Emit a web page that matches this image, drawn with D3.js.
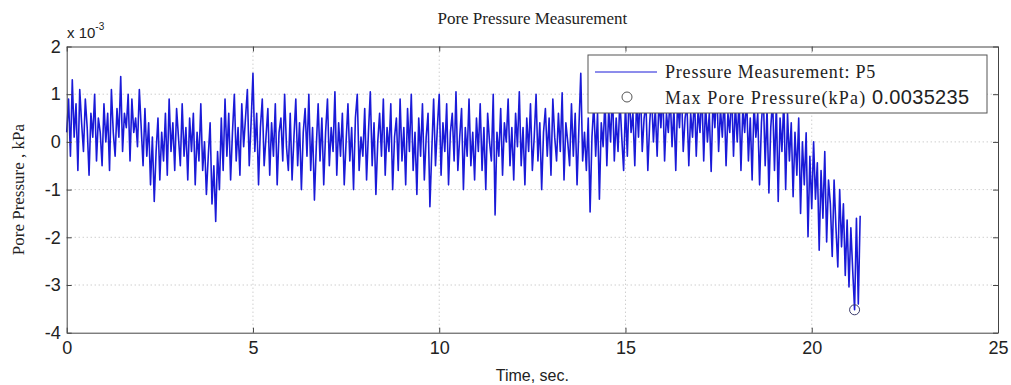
<!DOCTYPE html>
<html>
<head>
<meta charset="utf-8">
<script src="https://cdn.jsdelivr.net/npm/d3@7"></script>
<style>
  body { margin: 0; background: #fff; }
  .tick text { font-family: "Liberation Sans", Arial, sans-serif; }
</style>
</head>
<body>
<div id="chart"></div>
<script>
// pore pressure readings, in units of 10^-3 kPa, one every sampleStep seconds
var sampleStep = 0.05;
var pressure = [
  0.2, 0.9, -0.3, 1.3, 0.1, 0.8, -0.6, 1.1, 0.4, -0.2, 0.9, 0.3, -0.7, 0.6, 0.1, 1.0, -0.4, 0.5, 0.2, -0.5,
  0.8, 0.0, 0.6, -0.6, 1.1, 0.2, -0.3, 0.7, 0.1, 1.37, -0.2, 0.6, 0.3, 1.0, -0.4, 0.9, 0.2, 0.5, -0.1, 1.1,
  0.3, -0.5, 0.7, -0.3, 0.4, -0.9, 0.1, -1.25, -0.2, 0.5, -0.8, 0.2, -0.4, 0.6, -0.7, 0.9, -0.2, 0.4, -0.6, 0.7,
  0.1, -0.5, 0.8, -0.3, 0.3, -0.8, 0.5, -0.2, 0.6, -0.9, 0.2, -0.4, 0.8, -0.6, 0.0, -1.1, -0.3, 0.4, -1.3, -0.5,
  -1.67, -0.2, -1.0, 0.5, -0.6, 0.9, -0.3, 0.6, -0.8, 0.2, 1.0, -0.4, 0.3, -0.7, 0.8, -0.1, 0.5, 1.1, -0.5, 0.4,
  1.44, -0.2, 0.6, -0.9, 0.3, 0.9, -0.5, 0.1, 0.7, -0.7, 0.4, -0.3, 0.8, -0.9, 0.2, 0.5, -0.4, 1.0, -0.1, -0.6,
  0.6, -0.8, 0.1, 0.9, -0.5, 0.4, -1.0, 0.2, 0.7, -0.3, 1.0, -0.6, 0.3, -1.22, -0.1, 0.8, -0.4, 0.5, -0.9, 0.2,
  0.9, -0.5, 0.3, -0.2, 1.05, -0.7, 0.4, -0.3, 0.6, -0.9, 0.0, 0.8, -0.4, 0.3, -1.0, 0.5, 1.0, -0.6, 0.1, -0.3,
  0.7, -0.8, 0.2, 1.05, -0.5, 0.4, -1.1, 0.0, 0.6, -0.3, 0.9, -0.7, 0.3, -0.2, 0.8, -1.0, 0.1, 0.5, -0.6, 0.9,
  -0.4, 0.3, -0.9, 0.7, -0.2, 1.0, -0.6, 0.2, -1.1, 0.5, -0.3, 0.8, -0.8, 0.1, 0.6, -1.36, -0.2, 0.9, -0.5, 0.3,
  1.0, -0.7, 0.4, -0.2, 0.8, -0.9, 0.2, 0.6, -0.4, 1.05, -0.6, 0.1, 0.7, -1.0, 0.3, -0.3, 0.9, -0.5, 0.2, -0.8,
  0.5, -0.2, 0.8, -0.6, 0.3, -1.0, 0.6, 0.0, -0.4, 1.0, -1.53, 0.2, -0.3, 0.7, -0.7, 0.4, 0.0, 0.9, -0.5, 0.3,
  -0.8, 0.6, -0.1, 1.05, -0.5, 0.3, -0.9, 0.5, -0.2, 0.8, -0.6, 0.1, 1.0, -0.4, 0.4, -1.0, 0.2, 0.7, -0.3, 0.5,
  -0.7, 0.9, 0.1, -0.4, 0.6, -0.2, 1.03, -0.8, 0.4, 0.0, -0.5, 0.8, -0.3, 0.6, -0.9, 0.3, 1.44, -0.4, 0.2, -0.6,
  0.5, -1.47, 0.1, 0.8, -0.3, 0.6, -1.2, 0.4, -0.1, 0.9, -0.5, 0.7, 0.0, 1.1, -0.4, 0.5, -0.2, 0.9, 0.1, -0.6,
  0.8, -0.3, 1.1, 0.2, 0.6, -0.5, 0.9, 0.1, 1.2, -0.2, 0.5, 0.8, -0.6, 0.4, 1.0, 0.0, 0.7, -0.3, 0.9, 0.3,
  1.1, -0.4, 0.6, 0.2, 1.0, -0.1, 0.7, -0.6, 0.9, 0.3, 1.2, -0.2, 0.5, 0.8, -0.5, 0.6, 0.1, 1.0, -0.3, 0.7,
  0.2, 1.1, -0.4, 0.8, 0.0, 0.6, -0.62, 0.9, 0.3, 1.2, -0.2, 0.7, 0.1, 1.0, -0.5, 0.6, 0.2, 1.1, -0.3, 0.8,
  0.0, 0.9, -0.6, 0.7, 0.2, 1.0, -0.4, 0.5, -0.8, 0.8, 0.1, 0.6, -0.9, 0.4, 1.0, -0.5, 0.7, -1.07, 0.3, 0.9,
  -0.6, 0.8, -1.25, 0.5, -0.2, 0.9, -1.0, 0.6, -0.4, 0.4, -1.15, 0.2, -0.7, 0.5, -1.5, 0.0, -0.9, 0.19, -1.99, -0.3,
  -1.4, 0.0, -1.2, -0.44, -2.27, -0.6, -1.6, -0.2, -2.1, -0.8, -1.3, -2.4, -0.8, -1.8, -2.62, -1.0, -2.2, -1.3, -2.8, -1.64,
  -3.04, -1.8, -2.7, -3.52, -1.6, -3.4, -1.55
];
var xTicks = [0, 5, 10, 15, 20, 25];
var yTicks = [-4, -3, -2, -1, 0, 1, 2];
var legendLabels = ["Pressure Measurement: P5", "Max Pore Pressure(kPa)"];
var maxLabel = "0.0035235";

var width = 1011, height = 385;
var margin = { top: 46.5, right: 13, bottom: 52.3, left: 66.7 };
var serif = "'Liberation Serif', 'Times New Roman', serif";
var sans = "'Liberation Sans', Arial, sans-serif";

var svg = d3.select("#chart").append("svg")
  .attr("width", width)
  .attr("height", height);

var x = d3.scaleLinear().domain([0, 25]).range([margin.left, width - margin.right]);
var y = d3.scaleLinear().domain([-4, 2]).range([height - margin.bottom, margin.top]);

var data = pressure.map(function(v, i) {
  return { t: i * sampleStep, p: v };
});

// grid
svg.append("g").selectAll("line")
  .data(xTicks.slice(1, -1))
  .enter().append("line")
  .attr("x1", (d) => x(d)).attr("x2", (d) => x(d))
  .attr("y1", y(-4)).attr("y2", y(2))
  .attr("stroke", "#b8b8b8")
  .attr("stroke-dasharray", "1 3");

svg.append("g").selectAll("line")
  .data(yTicks.slice(1, -1))
  .enter().append("line")
  .attr("y1", (d) => y(d)).attr("y2", (d) => y(d))
  .attr("x1", x(0)).attr("x2", x(25))
  .attr("stroke", "#b8b8b8")
  .attr("stroke-dasharray", "1 3");

// signal
var line = d3.line()
  .x((d) => x(d.t))
  .y((d) => y(d.p));

svg.append("path")
  .datum(data)
  .attr("fill", "none")
  .attr("stroke", "#1a1ad8")
  .attr("stroke-width", 1.6)
  .attr("stroke-linejoin", "round")
  .attr("d", line);

// max (most negative) marker
var iMax = d3.minIndex(data, (d) => d.p);
svg.append("circle")
  .attr("cx", x(data[iMax].t))
  .attr("cy", y(data[iMax].p))
  .attr("r", 5)
  .attr("fill", "none")
  .attr("stroke", "#3a3a6a")
  .attr("stroke-width", 1);

// axes, ticks inward on all four sides
var xAxis = svg.append("g")
  .attr("transform", "translate(0," + y(-4) + ")")
  .call(d3.axisBottom(x).tickValues(xTicks).tickSizeInner(-5).tickSizeOuter(0).tickPadding(9));
var yAxis = svg.append("g")
  .attr("transform", "translate(" + x(0) + ",0)")
  .call(d3.axisLeft(y).tickValues(yTicks).tickSizeInner(-5).tickSizeOuter(0).tickPadding(6));
svg.append("g")
  .attr("transform", "translate(0," + y(2) + ")")
  .call(d3.axisTop(x).tickValues(xTicks).tickSizeInner(-5).tickSizeOuter(0).tickFormat(""));
svg.append("g")
  .attr("transform", "translate(" + x(25) + ",0)")
  .call(d3.axisRight(y).tickValues(yTicks).tickSizeInner(-5).tickSizeOuter(0).tickFormat(""));

svg.selectAll(".domain").attr("stroke", "#444");
svg.selectAll(".tick line").attr("stroke", "#444");
xAxis.selectAll("text").attr("font-size", 18).attr("fill", "#222");
yAxis.selectAll("text").attr("font-size", 18).attr("fill", "#222")
  .text((d) => d);

// exponent label
var expo = svg.append("text")
  .attr("x", 67).attr("y", 38)
  .attr("font-family", sans).attr("font-size", 15).attr("fill", "#222")
  .text("x 10");
expo.append("tspan").attr("dy", -8).attr("font-size", 10).text("-3");

// titles
svg.append("text")
  .attr("x", (x(0) + x(25)) / 2).attr("y", 24)
  .attr("text-anchor", "middle")
  .attr("font-family", serif).attr("font-size", 17).attr("fill", "#222")
  .text("Pore Pressure Measurement");

svg.append("text")
  .attr("x", (x(0) + x(25)) / 2).attr("y", 381)
  .attr("text-anchor", "middle")
  .attr("font-family", sans).attr("font-size", 16).attr("fill", "#222")
  .text("Time, sec.");

svg.append("text")
  .attr("transform", "translate(24," + y(-1) + ") rotate(-90)")
  .attr("text-anchor", "middle")
  .attr("font-family", serif).attr("font-size", 17).attr("fill", "#222")
  .text("Pore Pressure , kPa");

// legend
var legend = svg.append("g").attr("transform", "translate(588,55)");
legend.append("rect")
  .attr("width", 399).attr("height", 58)
  .attr("fill", "#fff").attr("stroke", "#555");
legend.append("line")
  .attr("x1", 7).attr("x2", 69).attr("y1", 17).attr("y2", 17)
  .attr("stroke", "#1a1ad8");
legend.append("circle")
  .attr("cx", 39).attr("cy", 42).attr("r", 5)
  .attr("fill", "none").attr("stroke", "#555");
legend.append("text")
  .attr("x", 77).attr("y", 23)
  .attr("font-family", serif).attr("font-size", 18).attr("letter-spacing", 0.8).attr("fill", "#222")
  .text(legendLabels[0]);
var t2 = legend.append("text")
  .attr("x", 77).attr("y", 49)
  .attr("font-family", serif).attr("font-size", 18).attr("letter-spacing", 1.2).attr("fill", "#222")
  .text(legendLabels[1] + " ");
t2.append("tspan")
  .attr("font-family", sans).attr("font-size", 20).attr("letter-spacing", 0.3)
  .text(maxLabel);
</script>
</body>
</html>
